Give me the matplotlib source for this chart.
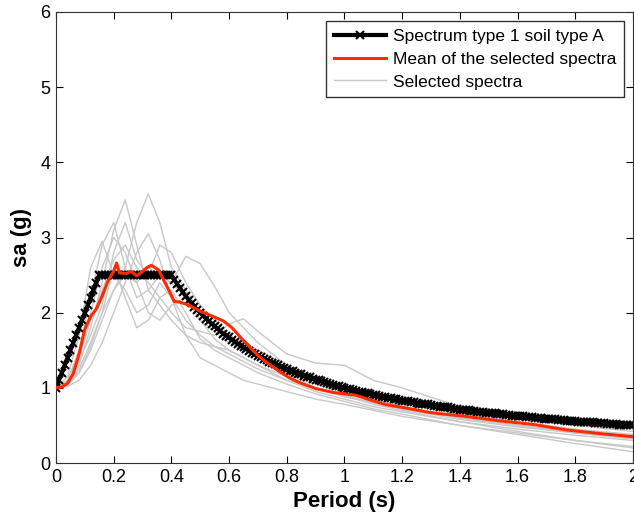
import numpy as np
import matplotlib
matplotlib.use('Agg')
import matplotlib.pyplot as plt

# ---- data ----
# code spectrum (EC8 type 1, soil A), one value every 0.01 s from 0 to 2 s
code_periods = np.linspace(0, 2, 201)
code_sa = [1.00, 1.10, 1.20, 1.30, 1.40, 1.50, 1.60, 1.70, 1.80, 1.90, 2.00, 2.10, 2.20, 2.30, 2.40, 2.50,
           2.50, 2.50, 2.50, 2.50, 2.50, 2.50, 2.50, 2.50, 2.50, 2.50, 2.50, 2.50, 2.50, 2.50, 2.50, 2.50,
           2.50, 2.50, 2.50, 2.50, 2.50, 2.50, 2.50, 2.50, 2.50,
           2.44, 2.38, 2.33, 2.27, 2.22, 2.17, 2.13, 2.08, 2.04, 2.00,
           1.96, 1.92, 1.89, 1.85, 1.82, 1.79, 1.75, 1.72, 1.69, 1.67,
           1.64, 1.61, 1.59, 1.56, 1.54, 1.52, 1.49, 1.47, 1.45, 1.43,
           1.41, 1.39, 1.37, 1.35, 1.33, 1.32, 1.30, 1.28, 1.27, 1.25,
           1.23, 1.22, 1.20, 1.19, 1.18, 1.16, 1.15, 1.14, 1.12, 1.11,
           1.10, 1.09, 1.08, 1.06, 1.05, 1.04, 1.03, 1.02, 1.01, 1.00,
           0.99, 0.98, 0.97, 0.96, 0.95, 0.94, 0.93, 0.93, 0.92, 0.91,
           0.90, 0.89, 0.88, 0.88, 0.87, 0.86, 0.85, 0.85, 0.84, 0.83,
           0.83, 0.82, 0.81, 0.81, 0.80, 0.79, 0.79, 0.78, 0.78, 0.77,
           0.76, 0.76, 0.75, 0.75, 0.74, 0.74, 0.73, 0.72, 0.72, 0.71,
           0.71, 0.70, 0.70, 0.69, 0.69, 0.68, 0.68, 0.68, 0.67, 0.67,
           0.66, 0.66, 0.65, 0.65, 0.65, 0.64, 0.64, 0.63, 0.63, 0.63,
           0.62, 0.62, 0.61, 0.61, 0.61, 0.60, 0.60, 0.60, 0.59, 0.59,
           0.58, 0.58, 0.58, 0.57, 0.57, 0.57, 0.56, 0.56, 0.56, 0.56,
           0.55, 0.55, 0.55, 0.54, 0.54, 0.54, 0.53, 0.53, 0.53, 0.53,
           0.52, 0.52, 0.52, 0.52, 0.51, 0.51, 0.51, 0.51, 0.50, 0.50]

# mean of the selected spectra
mean_periods = [0.0, 0.02, 0.04, 0.06, 0.08, 0.10, 0.12, 0.14, 0.16, 0.18, 0.20, 0.21, 0.22, 0.245,
                0.26, 0.28, 0.30, 0.315, 0.33, 0.355, 0.375, 0.395, 0.41, 0.43, 0.46, 0.50, 0.55,
                0.58, 0.61, 0.64, 0.67, 0.70, 0.73, 0.77, 0.81, 0.85, 0.90, 0.96, 1.04, 1.08, 1.14,
                1.20, 1.30, 1.42, 1.54, 1.66, 1.77, 1.89, 2.0]
mean_sa = [1.00, 1.01, 1.06, 1.19, 1.45, 1.78, 1.95, 2.05, 2.22, 2.42, 2.55, 2.66, 2.53, 2.52,
           2.55, 2.49, 2.55, 2.60, 2.63, 2.57, 2.42, 2.27, 2.15, 2.14, 2.10, 2.02, 1.94,
           1.89, 1.80, 1.67, 1.55, 1.43, 1.34, 1.23, 1.13, 1.06, 0.99, 0.94, 0.90, 0.85, 0.78,
           0.74, 0.67, 0.62, 0.56, 0.51, 0.44, 0.39, 0.35]

# selected (scaled) record spectra
rec_periods = [0, .04, .08, .12, .16, .20, .24, .28, .32, .36, .40, .45, .50, .55, .60, .65, .70,
               .80, .90, 1.0, 1.1, 1.2, 1.4, 1.6, 1.8, 2.0]
rec1 = [1.0, 1.05, 1.3, 1.8, 2.4, 3.1, 3.5, 2.9, 2.3, 2.1, 1.9, 1.7, 1.6, 1.55, 1.5, 1.4, 1.3,
        1.1, 0.95, 0.85, 0.75, 0.68, 0.55, 0.45, 0.37, 0.3]
rec2 = [1.0, 1.04, 1.25, 1.6, 2.0, 2.3, 2.6, 3.2, 3.58, 3.2, 2.6, 2.3, 2.0, 1.8, 1.7, 1.6, 1.5,
        1.3, 1.15, 1.0, 0.9, 0.8, 0.65, 0.55, 0.45, 0.38]
rec3 = [1.0, 1.1, 1.5, 2.2, 2.9, 3.2, 2.6, 2.2, 2.3, 2.5, 2.4, 2.2, 1.9, 1.75, 1.6, 1.5, 1.4,
        1.2, 1.05, 0.95, 0.85, 0.75, 0.6, 0.5, 0.42, 0.35]
rec4 = [1.0, 1.15, 1.7, 2.6, 2.95, 2.5, 2.3, 2.0, 2.1, 2.4, 2.2, 1.9, 1.7, 1.55, 1.45, 1.35, 1.25,
        1.1, 1.0, 0.9, 0.8, 0.72, 0.58, 0.48, 0.4, 0.33]
rec5 = [1.0, 1.05, 1.2, 1.5, 1.9, 2.3, 2.5, 2.4, 2.6, 2.5, 2.4, 2.75, 2.65, 2.35, 2.0, 1.8, 1.6,
        1.3, 1.1, 0.95, 0.85, 0.75, 0.6, 0.5, 0.4, 0.32]
rec6 = [1.0, 1.08, 1.4, 1.9, 2.3, 2.7, 2.9, 2.6, 2.4, 2.2, 2.0, 1.8, 1.75, 1.7, 1.85, 1.92, 1.75,
        1.45, 1.33, 1.3, 1.1, 1.0, 0.75, 0.6, 0.5, 0.42]
rec7 = [1.0, 1.02, 1.1, 1.3, 1.6, 2.0, 2.4, 2.8, 3.05, 2.7, 2.2, 1.7, 1.4, 1.3, 1.2, 1.1, 1.05,
        0.95, 0.85, 0.78, 0.7, 0.62, 0.5, 0.4, 0.3, 0.22]
rec8 = [1.0, 1.06, 1.35, 1.7, 2.1, 2.8, 3.2, 2.7, 2.5, 2.9, 2.8, 2.4, 2.1, 1.9, 1.7, 1.55, 1.4,
        1.2, 1.0, 0.9, 0.78, 0.7, 0.55, 0.42, 0.3, 0.2]
rec9 = [1.0, 1.03, 1.2, 1.55, 2.0, 2.6, 2.2, 1.8, 1.9, 2.2, 2.3, 2.0, 1.65, 1.5, 1.4, 1.3, 1.2,
        1.05, 0.92, 0.82, 0.72, 0.65, 0.5, 0.38, 0.26, 0.15]
rec10 = [1.0, 1.1, 1.45, 2.0, 2.6, 3.0, 2.8, 2.4, 2.0, 1.9, 2.1, 2.2, 1.9, 1.65, 1.5, 1.4, 1.3,
         1.15, 1.0, 0.88, 0.8, 0.72, 0.6, 0.5, 0.42, 0.36]
records = [rec1, rec2, rec3, rec4, rec5, rec6, rec7, rec8, rec9, rec10]

plt.rcParams['font.family'] = ['Liberation Sans', 'DejaVu Sans']

fig = plt.figure(figsize=(6.34, 5.17), dpi=100)
ax = fig.add_axes([0.0883, 0.1044, 0.9101, 0.8724])

for i, rec in enumerate(records):
    ax.plot(rec_periods, rec, color='#c8c8c8', lw=1,
            label='Selected spectra' if i == 0 else None, zorder=1)
ax.plot(code_periods, code_sa, color='black', lw=3, marker='x', ms=6, mew=1.5,
        label='Spectrum type 1 soil type A', zorder=2)
ax.plot(mean_periods, mean_sa, color='#ff2a00', lw=2.2, label='Mean of the selected spectra', zorder=3)

ax.set_xlim(0, 2)
ax.set_ylim(0, 6)
ax.set_xticks(np.arange(0, 2.01, 0.2))
ax.set_xticklabels(['0', '0.2', '0.4', '0.6', '0.8', '1', '1.2', '1.4', '1.6', '1.8', '2'])
ax.set_yticks(range(7))
ax.tick_params(direction='in', top=True, right=True, length=5, labelsize=13, pad=4)
for lab in ax.get_xticklabels() + ax.get_yticklabels():
    lab.set_family(['Liberation Sans Narrow', 'Liberation Sans'])
for s in ax.spines.values():
    s.set_color('#333333')

ax.set_xlabel('Period (s)', fontsize=16, fontweight='bold', labelpad=4)
ax.set_ylabel('sa (g)', fontsize=16, fontweight='bold', labelpad=6)

h, l = ax.get_legend_handles_labels()
order = [1, 2, 0]
leg = ax.legend([h[i] for i in order], [l[i] for i in order], loc='upper right', fontsize=12.5,
                frameon=True, fancybox=False, edgecolor='black', borderaxespad=0.5,
                handlelength=3, handletextpad=0.4, labelspacing=0.45, borderpad=0.45)
leg.get_frame().set_linewidth(1)

fig.savefig('out.png', dpi=100)
